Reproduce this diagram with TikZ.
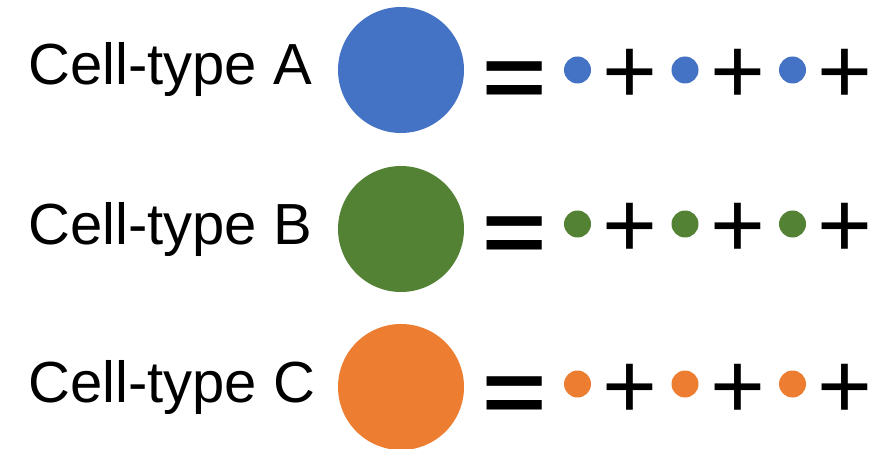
\documentclass[tikz,border=0pt]{standalone}
\usepackage{fontspec}
\setmainfont{Liberation Sans}
\definecolor{cblue}{HTML}{4472C4}
\definecolor{cgreen}{HTML}{548235}
\definecolor{corange}{HTML}{ED7D31}
\begin{document}
\begin{tikzpicture}[x=1pt,y=-1pt,
  label/.style={anchor=base west,inner sep=0,font=\fontsize{58}{70}\selectfont},
  big/.style={circle,inner sep=0,minimum size=126pt},
  dot/.style={circle,inner sep=0,minimum size=27pt},
  eqs/.style={anchor=base,inner sep=0,font=\fontsize{88}{100}\selectfont\bfseries,xscale=1.25},
  pls/.style={anchor=base,inner sep=0,font=\fontsize{94}{110}\selectfont}]
\useasboundingbox (0,0) rectangle (886,449);
\foreach \r/\L/\c/\cy/\dy in {a/A/cblue/70/70, b/B/cgreen/229/224, c/C/corange/387/384}{
  \node[label] (t\r) at (28,\cy+15) {Cell-type \L};
  \node[big,fill=\c] (C\r) at (401,\cy) {};
  \node[eqs] (e\r) at (514.5,\dy+38) {=};
  \node[dot,fill=\c] (d\r1) at (577.5,\dy) {};
  \node[pls] (p\r1) at (630,\dy+34) {+};
  \node[dot,fill=\c] (d\r2) at (685,\dy) {};
  \node[pls] (p\r2) at (737.5,\dy+34) {+};
  \node[dot,fill=\c] (d\r3) at (792.5,\dy) {};
  \node[pls] (p\r3) at (845,\dy+34) {+};
}
\end{tikzpicture}
\end{document}
